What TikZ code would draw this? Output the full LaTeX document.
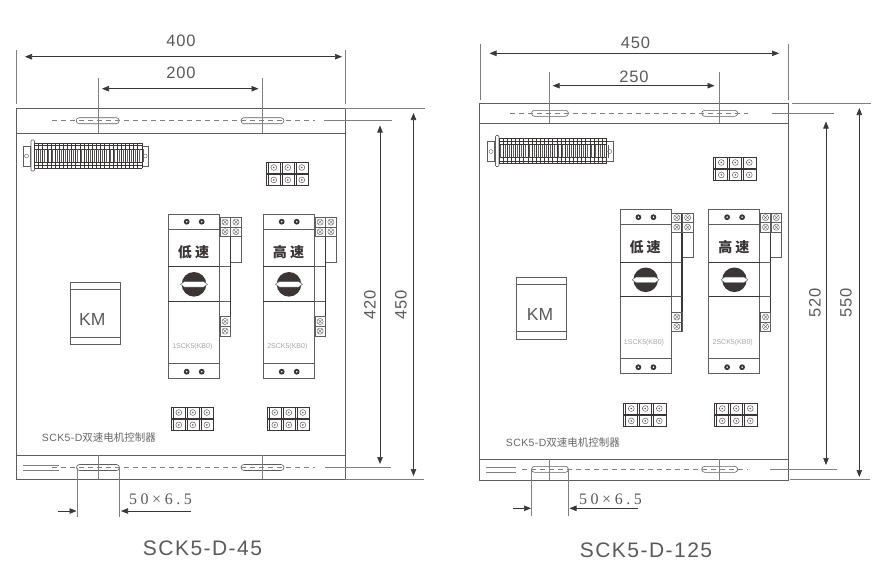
\documentclass[tikz,border=0pt]{standalone}
\usepackage{fontspec}
\setmainfont{Liberation Sans}
\newfontfamily\cjkfont{Noto Sans CJK SC}
\newfontfamily\dimfont[LetterSpace=5]{Liberation Sans}
\newfontfamily\titlefont[LetterSpace=7]{Liberation Sans}
\newfontfamily\slotfont[LetterSpace=22]{Liberation Serif}
\usetikzlibrary{
arrows.meta,
shapes.misc
}
\definecolor{inkdark}{HTML}{3A3636}
\definecolor{inkline}{HTML}{5E5E5E}
\definecolor{inkthin}{HTML}{808080}
\definecolor{inktext}{HTML}{5A5A5A}

\begin{document}
\begin{tikzpicture}[
    x=1pt, y=-1pt,
    line width=0.7pt,
    >={Triangle[length=7pt,width=5.5pt]},
    panel/.style={draw=inkline, line width=0.9pt, anchor=north west, inner sep=0pt},
    kmbox/.style={draw=inkline, line width=0.9pt, anchor=north west, inner sep=0pt, minimum width=50pt, minimum height=62pt},
    flange/.style={draw=inkline, line width=0.9pt},
    extline/.style={draw=inkthin, line width=0.6pt},
    centre/.style={draw=inkthin, line width=0.7pt, dash pattern=on 5pt off 4pt},
    slot/.style={draw=inkline, line width=0.6pt, rounded rectangle, inner sep=0pt, minimum height=6pt},
    dimline/.style={inkdark, line width=0.6pt, <->},
    slotdim/.style={inkdark, line width=0.6pt, ->},
    dimtext/.style={text=inktext, font=\dimfont\fontsize{16.5}{18}\selectfont, inner sep=0pt},
    slottext/.style={text=inktext, font=\slotfont\fontsize{16}{18}\selectfont, inner sep=0pt},
    kmtext/.style={text=inktext, font=\fontsize{17.5}{20}\selectfont, inner sep=0pt},
    titletext/.style={text=inktext, font=\titlefont\fontsize{21}{24}\selectfont, inner sep=0pt},
    captext/.style={text=inkthin!80!black, anchor=west, inner sep=0pt, font=\addfontfeature{LetterSpace=4}\fontsize{10.5}{12}\selectfont},
    pics/screwcell/.style={code={
      \draw[inkline, line width=0.5pt] (0,0) rectangle (10.4,9.6);
      \draw[inkline, line width=0.4pt] (5.2,4.8) circle (3.1);
      \draw[inkline, line width=0.35pt] (3,2.6) -- (7.4,7) (7.4,2.6) -- (3,7);
    }},
    pics/termblock/.style={code={
      \foreach \y in {0,12.4} {
        \draw[inkdark, line width=0.9pt] (0,\y) rectangle (42.6,\y+11);
        \foreach \x in {1.8,14,15.8,28,29.8} \draw[inkdark, line width=0.6pt] (\x,\y) -- (\x,\y+11);
        \foreach \x in {7.8,21.8,35.8} {
          \draw[inkline, line width=0.5pt] (\x,\y+5.5) circle (2.9);
          \fill[inkline] (\x,\y+5.5) circle (0.9);
        }
      }
    }},
    pics/railstrip/.style={code={
      \draw[inkline, line width=0.6pt] (0,6) rectangle (7,26) (119,6) rectangle (125.5,26);
      \draw[inkline, line width=0.4pt] (3.5,16) circle (2) (122.2,16) circle (2);
      \draw[inkline, line width=0.6pt, fill=white, rounded corners=1pt] (8,0) rectangle (11.5,31);
      \foreach \y in {3,5.5,9,22,25.5,28} \draw[inkdark, line width=0.55pt] (11.5,\y) -- (119,\y);
      \foreach \i in {0,...,26} {
        \draw[inkdark, line width=0.65pt] (11.5+\i*4.13,3) -- (11.5+\i*4.13,28);
        \draw[inkline, line width=0.45pt] (13.2+\i*4.13,9) -- (13.2+\i*4.13,22);
      }
    }},
    pics/switchunit/.style n args={3}{code={
      % side terminals
      \draw[inkline, line width=0.6pt] (62,3.3) rectangle (73,48);
      \draw[inkline, line width=0.6pt] (51,3.3) rectangle (62,122);
      \draw[inkdark, line width=#3] (62,3.3) -- (62,122);
      \draw[inkline, line width=0.6pt] (51,52.7) -- (62,52.7) (51,87) -- (62,87);
      \foreach \y in {3.3,12.9,102.7,112.3} \pic at (51.6,\y) {screwcell};
      \foreach \y in {3.3,12.9} \pic at (62.4,\y) {screwcell};
      % body
      \draw[inkline, line width=0.8pt, fill=white] (0,0) rectangle (51,164);
      \draw[inkline, line width=0.8pt] (0,15.3) -- (51,15.3);
      \draw[inkdark, line width=0.8pt] (0,52.7) -- (51,52.7) (0,87) -- (51,87);
      \draw[inkline, line width=0.8pt] (0,149) -- (51,149);
      \foreach \x in {18.4,33.4} \foreach \y in {7.7,157.7} {
        \fill[inkdark] (\x,\y) circle (2.9);
        \fill[white] (\x,\y) circle (0.9);
      }
      \node[inner sep=0pt, text=inkdark, font=\cjkfont\bfseries\addfontfeature{LetterSpace=22}\fontsize{14}{16}\selectfont] (speed) at (25.2,37.7) {#1};
      % knob
      \fill[inkdark] (25.7,70.3) circle (12.3);
      \draw[inkline, line width=0.4pt, fill=white] (12.2,70.3) -- (16,67.6) -- (35.4,67.6) -- (39.2,70.3) -- (35.4,73) -- (16,73) -- cycle;
      \node[inner sep=0pt, text=inkthin!70, font=\fontsize{7}{8}\selectfont] (model) at (24,133) {#2};
    }}
  ]
  \useasboundingbox (0,0) rectangle (885,582);

  %% SCK5-D-45
  \node[panel, minimum width=329.5pt, minimum height=371pt] (Lpanel) at (15.5,108) {};
  \coordinate (Lfa) at (15.5,133);
  \coordinate (Lfb) at (15.5,455);
  \draw[flange] (Lfa) -- (Lfa -| Lpanel.east);
  \draw[flange] (Lfb) -- (Lfb -| Lpanel.east);

  \node[slot, minimum width=43pt] (Lsa) at (97.7,120.7) {};
  \node[slot, minimum width=43pt] (Lsb) at (262.5,120.7) {};
  \node[slot, minimum width=43pt] (Lsc) at (98,467.5) {};
  \node[slot, minimum width=43pt] (Lsd) at (262.5,467.5) {};

  \coordinate (Lca) at (52,120.7);
  \coordinate (Lcb) at (315,120.7);
  \coordinate (Lcc) at (324,120.7);
  \coordinate (Lcd) at (392,120.7);
  \draw[centre] (Lca) -- (Lcb);
  \draw[extline] (Lcc) -- (Lcd);
  \coordinate (Lce) at (52,467.5);
  \coordinate (Lcf) at (315,467.5);
  \coordinate (Lcg) at (325,467.5);
  \coordinate (Lch) at (391,467.5);
  \draw[centre] (Lce) -- (Lcf);
  \draw[extline] (Lcg) -- (Lch);
  \coordinate (Lda) at (23,465);
  \coordinate (Ldb) at (59,465);
  \coordinate (Ldc) at (23,470);
  \coordinate (Ldd) at (59,470);
  \draw[extline] (Lda) -- (Ldb);
  \draw[extline] (Ldc) -- (Ldd);

  % dimensions
  \coordinate (Lwa) at (16,50);
  \coordinate (Lwb) at (16,104);
  \coordinate (Lwc) at (345,50);
  \coordinate (Lwd) at (345,104);
  \draw[extline] (Lwa) -- (Lwb);
  \draw[extline] (Lwc) -- (Lwd);
  \coordinate (Lwe) at (25,56.7);
  \coordinate (Lwf) at (342,56.7);
  \draw[dimline] (Lwe) -- (Lwf);
  \node[dimtext] (Lt400) at (181,41) {400};
  \coordinate (Lpa) at (98,78);
  \coordinate (Lpb) at (98,133);
  \coordinate (Lpc) at (262.7,78);
  \coordinate (Lpd) at (262.7,133);
  \draw[extline] (Lpa) -- (Lpb);
  \draw[extline] (Lpc) -- (Lpd);
  \coordinate (Lpe) at (102,88.7);
  \coordinate (Lpf) at (258.5,88.7);
  \draw[dimline] (Lpe) -- (Lpf);
  \node[dimtext] (Lt200) at (181,73) {200};
  \coordinate (Lpg) at (98,455);
  \coordinate (Lph) at (98,479);
  \coordinate (Lpi) at (262.7,455);
  \coordinate (Lpj) at (262.7,479);
  \draw[extline] (Lpg) -- (Lph);
  \draw[extline] (Lpi) -- (Lpj);

  \coordinate (Lha) at (345,108);
  \coordinate (Lhb) at (425,108);
  \coordinate (Lhc) at (345,479);
  \coordinate (Lhd) at (424,479);
  \draw[extline] (Lha) -- (Lhb);
  \draw[extline] (Lhc) -- (Lhd);
  \coordinate (Lva) at (380,125.5);
  \coordinate (Lvb) at (380,464);
  \draw[dimline] (Lva) -- (Lvb);
  \coordinate (Lvc) at (413.5,113);
  \coordinate (Lvd) at (413.5,476);
  \draw[dimline] (Lvc) -- (Lvd);
  \node[dimtext, rotate=90] (Lt420) at (370,305) {420};
  \node[dimtext, rotate=90] (Lt450) at (401,305) {450};

  \coordinate (Lxa) at (77,467.5);
  \coordinate (Lxb) at (77,517);
  \coordinate (Lxc) at (119.5,467.5);
  \coordinate (Lxd) at (119.5,517);
  \draw[extline] (Lxa) -- (Lxb);
  \draw[extline] (Lxc) -- (Lxd);
  \coordinate (Lxe) at (58,511);
  \coordinate (Lxf) at (76.5,511);
  \coordinate (Lxg) at (191,511);
  \coordinate (Lxh) at (121,511);
  \draw[slotdim] (Lxe) -- (Lxf);
  \draw[slotdim] (Lxg) -- (Lxh);
  \node[slottext] (Lt50) at (160.5,499.5) {50×6.5};

  % parts
  \pic (Lrail) at (23,140) {railstrip};
  \pic (Lba) at (266,162) {termblock};
  \pic (Lbb) at (171,407) {termblock};
  \pic (Lbc) at (267,407) {termblock};
  \pic (Lua) at (168.3,214) {switchunit={低速}{1SCK5(KB0)}{1.1pt}};
  \pic (Lub) at (263.3,214) {switchunit={高速}{2SCK5(KB0)}{0.6pt}};

  \node[kmbox] (Lkm) at (69.5,282.3) {};
  \coordinate (Lkma) at (69.5,289);
  \coordinate (Lkmb) at (69.5,337.5);
  \draw[flange] (Lkma) -- (Lkma -| Lkm.east);
  \draw[flange] (Lkmb) -- (Lkmb -| Lkm.east);
  \node[kmtext] (Lkmt) at (92.3,319) {KM};

  \node[captext] (Lcap) at (41.5,438) {SCK5-D{\cjkfont 双速电机控制器}};
  \node[titletext] (Ltitle) at (202.5,548) {SCK5-D-45};

  %% SCK5-D-125
  \node[panel, minimum width=309pt, minimum height=376.7pt] (Rpanel) at (479.3,103.3) {};
  \coordinate (Rfa) at (479.3,123.3);
  \coordinate (Rfb) at (479.3,459.3);
  \draw[flange] (Rfa) -- (Rfa -| Rpanel.east);
  \draw[flange] (Rfb) -- (Rfb -| Rpanel.east);

  \node[slot, minimum width=37pt] (Rsa) at (550,113.3) {};
  \node[slot, minimum width=36pt] (Rsb) at (719.7,113.3) {};
  \node[slot, minimum width=37pt] (Rsc) at (550,469.3) {};
  \node[slot, minimum width=36pt] (Rsd) at (719.7,469.3) {};

  \coordinate (Rca) at (510,113.3);
  \coordinate (Rcb) at (748,113.3);
  \coordinate (Rcc) at (771.7,113.3);
  \coordinate (Rcd) at (834,113.3);
  \draw[centre] (Rca) -- (Rcb);
  \draw[extline] (Rcc) -- (Rcd);
  \coordinate (Rce) at (522,469.3);
  \coordinate (Rcf) at (748,469.3);
  \coordinate (Rcg) at (770,469.3);
  \coordinate (Rch) at (836.7,469.3);
  \draw[centre] (Rce) -- (Rcf);
  \draw[extline] (Rcg) -- (Rch);
  \coordinate (Rda) at (486,467.3);
  \coordinate (Rdb) at (516,467.3);
  \coordinate (Rdc) at (486,472.3);
  \coordinate (Rdd) at (516,472.3);
  \draw[extline] (Rda) -- (Rdb);
  \draw[extline] (Rdc) -- (Rdd);

  % dimensions
  \coordinate (Rwa) at (480,44);
  \coordinate (Rwb) at (480,100);
  \coordinate (Rwc) at (788.3,44);
  \coordinate (Rwd) at (788.3,100);
  \draw[extline] (Rwa) -- (Rwb);
  \draw[extline] (Rwc) -- (Rwd);
  \coordinate (Rwe) at (489.5,53.3);
  \coordinate (Rwf) at (779,53.3);
  \draw[dimline] (Rwe) -- (Rwf);
  \node[dimtext] (Rt450) at (635.5,43) {450};
  \coordinate (Rpa) at (549.3,72);
  \coordinate (Rpb) at (549.3,123.3);
  \coordinate (Rpc) at (719.3,72);
  \coordinate (Rpd) at (719.3,123.3);
  \draw[extline] (Rpa) -- (Rpb);
  \draw[extline] (Rpc) -- (Rpd);
  \coordinate (Rpe) at (552.7,85.7);
  \coordinate (Rpf) at (714.5,85.7);
  \draw[dimline] (Rpe) -- (Rpf);
  \node[dimtext] (Rt250) at (634,77) {250};
  \coordinate (Rpg) at (549.3,459.3);
  \coordinate (Rph) at (549.3,480);
  \coordinate (Rpi) at (719.3,459.3);
  \coordinate (Rpj) at (719.3,480);
  \draw[extline] (Rpg) -- (Rph);
  \draw[extline] (Rpi) -- (Rpj);

  \coordinate (Rha) at (791.7,103.3);
  \coordinate (Rhb) at (871,103.3);
  \coordinate (Rhc) at (790,479.5);
  \coordinate (Rhd) at (870,479.5);
  \draw[extline] (Rha) -- (Rhb);
  \draw[extline] (Rhc) -- (Rhd);
  \coordinate (Rva) at (826,121.5);
  \coordinate (Rvb) at (826,465);
  \draw[dimline] (Rva) -- (Rvb);
  \coordinate (Rvc) at (859.3,108);
  \coordinate (Rvd) at (859.3,477);
  \draw[dimline] (Rvc) -- (Rvd);
  \node[dimtext, rotate=90] (Rt520) at (815,303) {520};
  \node[dimtext, rotate=90] (Rt550) at (846,303) {550};

  \coordinate (Rxa) at (531.7,469.3);
  \coordinate (Rxb) at (531.7,515.5);
  \coordinate (Rxc) at (568.3,469.3);
  \coordinate (Rxd) at (568.3,515.5);
  \draw[extline] (Rxa) -- (Rxb);
  \draw[extline] (Rxc) -- (Rxd);
  \coordinate (Rxe) at (513.3,508.3);
  \coordinate (Rxf) at (531,508.3);
  \coordinate (Rxg) at (638,508.3);
  \coordinate (Rxh) at (569.5,508.3);
  \draw[slotdim] (Rxe) -- (Rxf);
  \draw[slotdim] (Rxg) -- (Rxh);
  \node[slottext] (Rt50) at (610.5,499.5) {50×6.5};

  % parts
  \pic (Rrail) at (487.5,135.5) {railstrip};
  \pic (Rba) at (713.5,157) {termblock};
  \pic (Rbb) at (623.5,403) {termblock};
  \pic (Rbc) at (714.5,403) {termblock};
  \pic (Rua) at (620,209.5) {switchunit={低速}{1SCK5(KB0)}{1.1pt}};
  \pic (Rub) at (708.7,209.5) {switchunit={高速}{2SCK5(KB0)}{0.6pt}};

  \node[kmbox] (Rkm) at (516,276.7) {};
  \coordinate (Rkma) at (516,284);
  \coordinate (Rkmb) at (516,331);
  \draw[flange] (Rkma) -- (Rkma -| Rkm.east);
  \draw[flange] (Rkmb) -- (Rkmb -| Rkm.east);
  \node[kmtext] (Rkmt) at (540,314) {KM};

  \node[captext] (Rcap) at (505.5,443) {SCK5-D{\cjkfont 双速电机控制器}};
  \node[titletext] (Rtitle) at (646,550.5) {SCK5-D-125};
\end{tikzpicture}
\end{document}
